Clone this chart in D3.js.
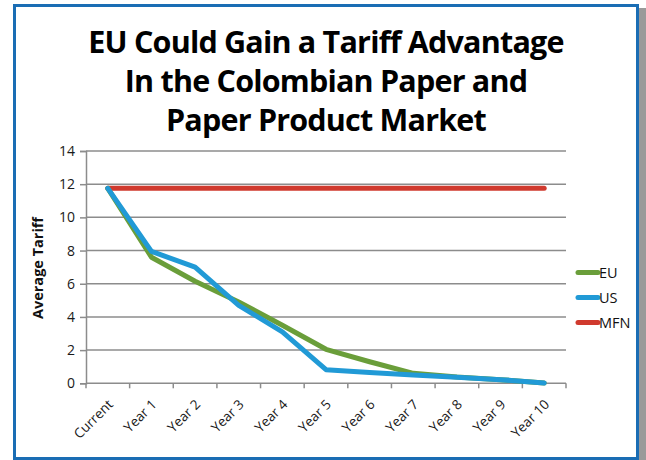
<!DOCTYPE html>
<html>
<head>
<meta charset="utf-8">
<script src="https://cdn.jsdelivr.net/npm/d3@7"></script>
<style>
  body { margin: 0; background: #fff; }
  text { font-family: "Open Sans", "Liberation Sans", sans-serif; }
</style>
</head>
<body>
<svg id="chart" width="646" height="460"></svg>
<script>
let years = ['Current', 'Year 1', 'Year 2', 'Year 3', 'Year 4', 'Year 5',
  'Year 6', 'Year 7', 'Year 8', 'Year 9', 'Year 10']
let euVals = [11.75, 7.6, 6.15, 4.9, 3.5, 2.05, 1.3, 0.6, 0.38, 0.22, 0.02]
let usVals = [11.75, 7.95, 7.0, 4.7, 3.1, 0.82, 0.65, 0.5, 0.36, 0.22, 0.02]
let mfnVals = [11.75, 11.75, 11.75, 11.75, 11.75, 11.75, 11.75, 11.75, 11.75, 11.75, 11.75]
let yTicks = [0, 2, 4, 6, 8, 10, 12, 14]
let titleLines = ['EU Could Gain a Tariff Advantage', 'In the Colombian Paper and', 'Paper Product Market']

let series = [
  {name: 'EU', vals: euVals, color: '#6a9e3a'},
  {name: 'US', vals: usVals, color: '#219ad6'},
  {name: 'MFN', vals: mfnVals, color: '#d03a2e'}
]

let svg = d3.select('#chart')

// frame with shadow on the right
svg.append('rect')
  .attr('x', 638).attr('y', 8).attr('width', 8).attr('height', 452)
  .attr('fill', '#9a9a9a')
svg.append('rect')
  .attr('x', 14.5).attr('y', 5.5).attr('width', 623).attr('height', 453)
  .attr('fill', '#fff')
  .attr('stroke', '#1a6db4')
  .attr('stroke-width', 3)

// title
let title = svg.append('text')
  .attr('text-anchor', 'middle')
  .attr('font-weight', 'bold')
  .attr('font-size', '30.5px')
  .attr('fill', '#000')
title.selectAll('tspan')
  .data(titleLines)
  .enter().append('tspan')
  .attr('x', 326)
  .attr('y', (d, i) => 53 + i * 39)
  .attr('letter-spacing', '-0.8px')
  .text(d => d)

let x = d3.scaleBand().domain(years).range([86, 566])
let y = d3.scaleLinear().domain([0, 14]).range([383.3, 151])

// gridlines
svg.append('g')
  .selectAll('line')
  .data(yTicks.filter(d => d > 0))
  .enter().append('line')
  .attr('x1', 86).attr('x2', 566)
  .attr('y1', d => y(d)).attr('y2', d => y(d))
  .attr('stroke', '#8c8c8c')
  .attr('stroke-width', 1.5)

// y axis
let yAxis = svg.append('g')
  .attr('transform', 'translate(86,0)')
  .call(d3.axisLeft(y).tickValues(yTicks).tickSize(6).tickPadding(5))
yAxis.selectAll('path, line').attr('stroke', '#8c8c8c').attr('stroke-width', 1.5)
yAxis.selectAll('text').attr('font-size', '14px').attr('fill', '#1a1a1a')
  .style('font-family', '"Open Sans", sans-serif')

// x axis
let xAxis = svg.append('g')
  .attr('transform', 'translate(0,' + y(0) + ')')
xAxis.append('line')
  .attr('x1', 86).attr('x2', 566)
  .attr('stroke', '#8c8c8c').attr('stroke-width', 1.5)
xAxis.selectAll('.tk')
  .data(years.concat(['end']))
  .enter().append('line')
  .attr('class', 'tk')
  .attr('x1', (d, i) => 86 + i * x.bandwidth())
  .attr('x2', (d, i) => 86 + i * x.bandwidth())
  .attr('y1', 0).attr('y2', 5)
  .attr('stroke', '#8c8c8c').attr('stroke-width', 1.5)
xAxis.selectAll('.lbl')
  .data(years)
  .enter().append('text')
  .attr('class', 'lbl')
  .attr('text-anchor', 'end')
  .attr('font-size', '13.5px')
  .attr('fill', '#1a1a1a')
  .attr('transform', d => 'translate(' + (x(d) + x.bandwidth() / 2 + 6) + ',22) rotate(-45)')
  .text(d => d)

// y label
svg.append('text')
  .attr('transform', 'translate(43,268) rotate(-90)')
  .attr('text-anchor', 'middle')
  .attr('font-size', '14.5px')
  .attr('font-weight', 'bold')
  .attr('fill', '#111')
  .text('Average Tariff')

// lines
let line = d3.line()
  .x((d, i) => x(years[i]) + x.bandwidth() / 2)
  .y(d => y(d))

let drawOrder = [series[2], series[0], series[1]]
svg.append('g')
  .selectAll('path')
  .data(drawOrder)
  .enter().append('path')
  .attr('d', d => line(d.vals))
  .attr('fill', 'none')
  .attr('stroke', d => d.color)
  .attr('stroke-width', 5)
  .attr('stroke-linejoin', 'round')
  .attr('stroke-linecap', 'round')

// legend
let leg = svg.append('g')
  .selectAll('g')
  .data(series)
  .enter().append('g')
  .attr('transform', (d, i) => 'translate(578,' + (272.5 + i * 25) + ')')
leg.append('line')
  .attr('x1', 0).attr('x2', 20)
  .attr('stroke', d => d.color)
  .attr('stroke-width', 5)
  .attr('stroke-linecap', 'round')
leg.append('text')
  .attr('x', 21)
  .attr('y', 5)
  .attr('font-size', '14.5px')
  .attr('fill', '#111')
  .text(d => d.name)
</script>
</body>
</html>
